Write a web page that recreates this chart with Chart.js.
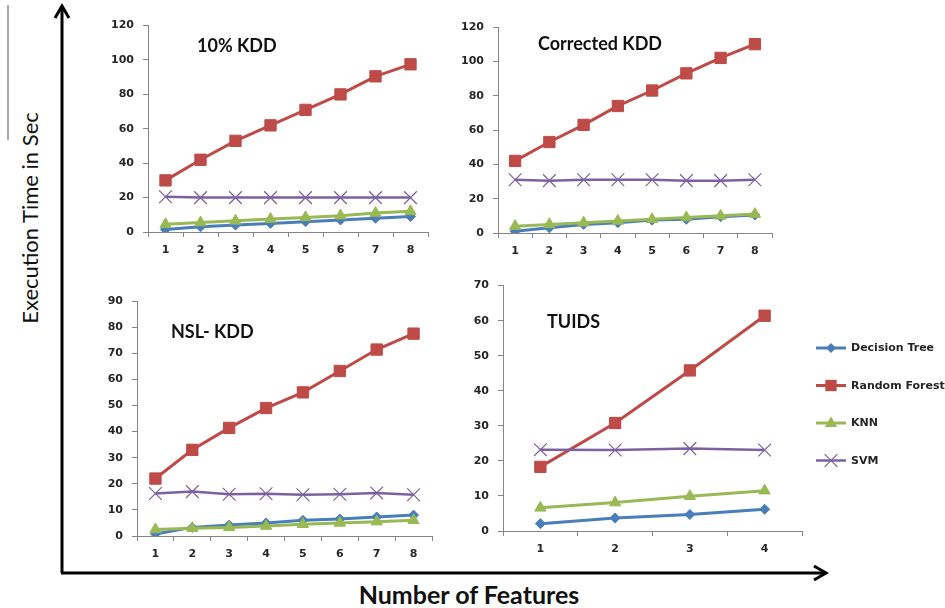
<!DOCTYPE html>
<html>
<head>
<meta charset="utf-8">
<title>Execution time vs number of features</title>
<script src="https://cdn.jsdelivr.net/npm/chart.js@4"></script>
<style>
  html, body { margin: 0; padding: 0; background: #ffffff; }
  #wrap { position: relative; width: 945px; height: 608px; overflow: hidden; font-family: Lato, "DejaVu Sans", sans-serif; }
  #wrap canvas { position: absolute; }
  .panel-title { position: absolute; font-weight: bold; font-size: 18px; color: #111; white-space: nowrap; line-height: 1; transform: translateY(-50%); }
  #yTitle { position: absolute; left: 30px; top: 218px; font-size: 22px; color: #111; white-space: nowrap; line-height: 1; transform: translate(-50%, -50%) rotate(-90deg); }
  #xTitle { position: absolute; left: 469px; top: 594px; font-size: 25px; font-weight: bold; color: #111; white-space: nowrap; line-height: 1; transform: translate(-50%, -50%); }
  #frame { position: absolute; left: 0; top: 0; }
</style>
</head>
<body>
<div id="wrap">
  <svg id="frame" width="945" height="608">
    <line x1="8" y1="5" x2="8" y2="140" stroke="#8c8c8c" stroke-width="1.5"/>
    <polyline points="62,573 62,6" fill="none" stroke="#000" stroke-width="3"/>
    <polyline points="55,18 62,6 69,18" fill="none" stroke="#000" stroke-width="3" stroke-linejoin="miter"/>
    <polyline points="61,573 825,573" fill="none" stroke="#000" stroke-width="3"/>
    <polyline points="814,566 826,573 814,580" fill="none" stroke="#000" stroke-width="3" stroke-linejoin="miter"/>
  </svg>
  <div id="yTitle">Execution Time in Sec</div>
  <div id="xTitle">Number of Features</div>

  <canvas id="c1" width="345" height="265" style="left:95px;top:10px;"></canvas>
  <canvas id="c2" width="325" height="265" style="left:460px;top:10px;"></canvas>
  <canvas id="c3" width="350" height="285" style="left:95px;top:285px;"></canvas>
  <canvas id="c4" width="485" height="300" style="left:460px;top:270px;"></canvas>

  <div class="panel-title" style="left:197px;top:45px;">10% KDD</div>
  <div class="panel-title" style="left:538px;top:43px;">Corrected KDD</div>
  <div class="panel-title" style="left:171px;top:331px;">NSL- KDD</div>
  <div class="panel-title" style="left:547px;top:321px;">TUIDS</div>
</div>

<script>
// Feature counts on the x axes
const features8 = ['1', '2', '3', '4', '5', '6', '7', '8'];
const features4 = ['1', '2', '3', '4'];

// Classifier names (legend order)
const seriesNames = ['Decision Tree', 'Random Forest', 'KNN', 'SVM'];

// 10% KDD execution times (sec)
const kdd10DT  = [1.5, 3, 4, 5, 6, 7, 8, 9];
const kdd10RF  = [30, 42, 53, 62, 71, 80, 90.5, 97.5];
const kdd10KNN = [4.5, 5.5, 6.5, 7.5, 8.5, 9.5, 11, 12];
const kdd10SVM = [20.5, 20, 20, 20, 20, 20, 20, 20];

// Corrected KDD execution times (sec)
const corrDT  = [1, 3, 5, 6, 7.5, 8, 9.5, 10.5];
const corrRF  = [42, 53, 63, 74, 83, 93, 102, 110];
const corrKNN = [4, 5, 6, 7, 8, 9, 10, 11];
const corrSVM = [31, 30.5, 31, 31, 31, 30.5, 30.5, 31];

// NSL-KDD execution times (sec)
const nslDT  = [0.8, 3.3, 4.2, 5, 6, 6.5, 7.3, 8];
const nslRF  = [22, 33, 41.4, 49, 55, 63.2, 71.4, 77.5];
const nslKNN = [2.5, 3, 3.3, 3.8, 4.5, 5, 5.5, 6];
const nslSVM = [16.3, 17, 16, 16.2, 15.8, 16, 16.5, 15.8];

// TUIDS execution times (sec)
const tuidsDT  = [2.1, 3.7, 4.7, 6.2];
const tuidsRF  = [18.3, 30.8, 45.8, 61.4];
const tuidsKNN = [6.6, 8.1, 9.9, 11.5];
const tuidsSVM = [23.2, 23.1, 23.5, 23.1];

// Y axis ranges
const yMaxes = [120, 120, 90, 70];
const ySteps = [20, 20, 10, 10];

// Series styling
const seriesColors = ['#4a7ebb', '#be4b48', '#98b954', '#7d60a0'];
const seriesStyles = ['rectRot', 'rect', 'triangle', 'crossRot'];
const seriesRadius = [5, 8, 6.5, 9];
const seriesLineW  = [3, 3, 3, 2.5];
const tickFont = { family: '"DejaVu Sans", sans-serif', size: 11, weight: 'bold' };
const axisGray = '#868686';

function drawMarker(ctx, style, x, y, r, color) {
  ctx.save();
  ctx.fillStyle = color;
  ctx.strokeStyle = color;
  ctx.lineWidth = 1.2;
  ctx.beginPath();
  if (style === 'rect') {
    const s = Math.SQRT1_2 * r;
    ctx.rect(x - s, y - s, 2 * s, 2 * s);
    ctx.fill();
  } else if (style === 'rectRot') {
    ctx.moveTo(x, y - r); ctx.lineTo(x + r, y); ctx.lineTo(x, y + r); ctx.lineTo(x - r, y);
    ctx.closePath(); ctx.fill();
  } else if (style === 'triangle') {
    ctx.moveTo(x, y - r); ctx.lineTo(x + r * 0.95, y + r * 0.6); ctx.lineTo(x - r * 0.95, y + r * 0.6);
    ctx.closePath(); ctx.fill();
  } else {
    const d = r * Math.SQRT1_2;
    ctx.moveTo(x - d, y - d); ctx.lineTo(x + d, y + d);
    ctx.moveTo(x + d, y - d); ctx.lineTo(x - d, y + d);
    ctx.stroke();
  }
  ctx.restore();
}

// Legend with line + marker samples, drawn to the right of the plot area
const sideLegend = {
  id: 'sideLegend',
  afterDraw(chart, args, opts) {
    if (!opts || !opts.show) return;
    const ctx = chart.ctx;
    chart.data.datasets.forEach((ds, i) => {
      const y = opts.y0 + i * opts.gap;
      const x0 = opts.x0;
      ctx.save();
      ctx.strokeStyle = ds.borderColor;
      ctx.lineWidth = ds.borderWidth;
      ctx.beginPath();
      ctx.moveTo(x0, y); ctx.lineTo(x0 + 30, y);
      ctx.stroke();
      ctx.restore();
      drawMarker(ctx, ds.pointStyle, x0 + 15, y, ds.pointRadius, ds.borderColor);
      ctx.save();
      ctx.fillStyle = '#262626';
      ctx.font = 'bold 11px "DejaVu Sans", sans-serif';
      ctx.textBaseline = 'middle';
      ctx.fillText(ds.label, x0 + 35, y + 0.5);
      ctx.restore();
    });
  }
};

function buildChart(id, labels, series, yMax, yStep, box, legend) {
  const datasets = series.map((data, i) => ({
    label: seriesNames[i],
    data: data,
    borderColor: seriesColors[i],
    backgroundColor: seriesColors[i],
    borderWidth: seriesLineW[i],
    pointStyle: seriesStyles[i],
    pointRadius: seriesRadius[i],
    pointBackgroundColor: seriesColors[i],
    pointBorderColor: seriesColors[i],
    pointBorderWidth: i === 3 ? 1.2 : 1,
    tension: 0,
    order: 3 - i
  }));
  return new Chart(document.getElementById(id), {
    type: 'line',
    data: { labels: labels, datasets: datasets },
    options: {
      responsive: false,
      animation: false,
      devicePixelRatio: 1,
      layout: { padding: { top: box.padTop, right: box.padRight, left: 0, bottom: 0 } },
      plugins: {
        legend: { display: false },
        tooltip: { enabled: false },
        sideLegend: legend || { show: false }
      },
      scales: {
        x: {
          type: 'category',
          offset: true,
          grid: { offset: true, drawOnChartArea: false, drawTicks: true, tickLength: 5, color: axisGray },
          border: { color: axisGray, width: 1 },
          ticks: { font: tickFont, color: '#262626', padding: 7, maxRotation: 0, autoSkip: false },
          afterFit(s) { s.height = box.xh; }
        },
        y: {
          min: 0,
          max: yMax,
          grid: { drawOnChartArea: false, drawTicks: true, tickLength: 5, color: axisGray },
          border: { color: axisGray, width: 1 },
          ticks: { stepSize: yStep, font: tickFont, color: '#262626', padding: 9 },
          afterFit(s) { s.width = box.yw; }
        }
      }
    },
    plugins: [sideLegend]
  });
}

buildChart('c1', features8, [kdd10DT, kdd10RF, kdd10KNN, kdd10SVM], yMaxes[0], ySteps[0],
  { yw: 53, padTop: 13, padRight: 12, xh: 43 });
buildChart('c2', features8, [corrDT, corrRF, corrKNN, corrSVM], yMaxes[1], ySteps[1],
  { yw: 38, padTop: 17, padRight: 13, xh: 42 });
buildChart('c3', features8, [nslDT, nslRF, nslKNN, nslSVM], yMaxes[2], ySteps[2],
  { yw: 42, padTop: 16, padRight: 13, xh: 34 });
buildChart('c4', features4, [tuidsDT, tuidsRF, tuidsKNN, tuidsSVM], yMaxes[3], ySteps[3],
  { yw: 43, padTop: 14, padRight: 143, xh: 39 },
  { show: true, x0: 356, y0: 78, gap: 37.5 });
</script>
</body>
</html>
